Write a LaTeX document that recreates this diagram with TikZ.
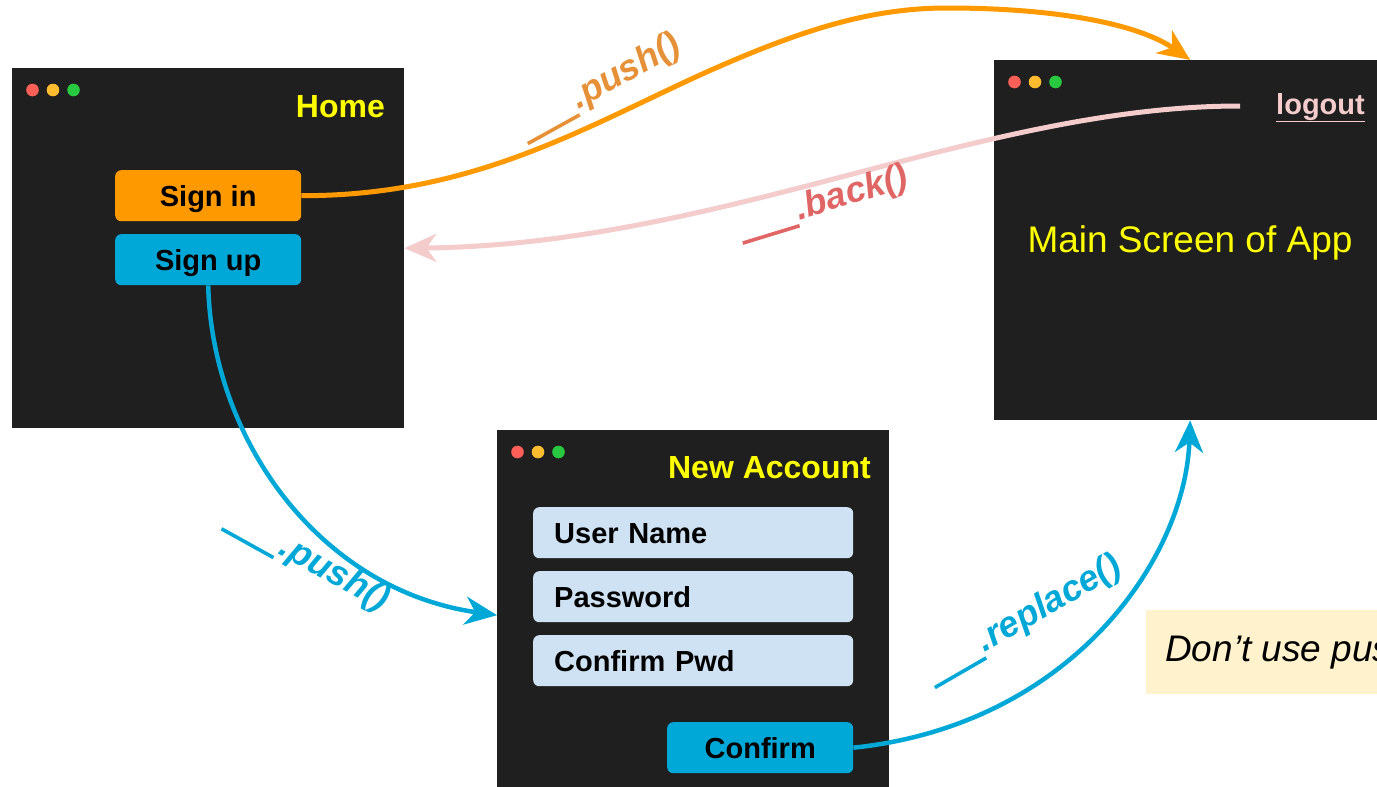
\documentclass[tikz,border=0pt]{standalone}
\usepackage{fontspec}
\setmainfont{Liberation Sans}
\usetikzlibrary{arrows.meta}

\definecolor{winbg}{HTML}{1F1F1F}
\definecolor{titleyellow}{HTML}{FFFF00}
\definecolor{btnorange}{HTML}{FF9900}
\definecolor{btnblue}{HTML}{00A8D8}
\definecolor{fieldblue}{HTML}{CFE2F3}
\definecolor{backpink}{HTML}{F4CCCC}
\definecolor{pushorange}{HTML}{E69138}
\definecolor{backred}{HTML}{E06666}
\definecolor{notebg}{HTML}{FFF2CC}
\definecolor{dotred}{HTML}{FF5F57}
\definecolor{dotyellow}{HTML}{FEBC2E}
\definecolor{dotgreen}{HTML}{28C840}

% the blank before a navigator call
\newcommand{\navblank}{\rule[-0.2em]{1.65em}{0.1em}\kern0.04em}

\tikzset{
    window/.style = {rectangle, fill=winbg, inner sep=0pt, anchor=north west,
                     minimum width=392pt, minimum height=360pt},
    wintitle/.style = {text=titleyellow, inner sep=0pt, anchor=base east,
                       font=\fontsize{32}{38}\selectfont\bfseries},
    btn/.style = {rectangle, rounded corners=6pt, inner sep=0pt, anchor=north west,
                  minimum width=186pt, minimum height=51pt, text height=21pt, text depth=0pt,
                  font=\fontsize{29}{34}\selectfont\bfseries},
    field/.style = {rectangle, rounded corners=6pt, fill=fieldblue, anchor=north west,
                    text width=278pt, inner xsep=21pt, inner ysep=0pt, minimum height=51pt,
                    text height=21pt, text depth=0pt,
                    align=left, font=\fontsize{29}{34}\selectfont\bfseries},
    nav/.style = {line width=5pt, -{Stealth[length=32pt, width=28pt, inset=10pt]}},
    navlabel/.style = {inner sep=0pt, anchor=base west,
                       font=\fontsize{36}{42}\selectfont\bfseries\itshape}
}

\begin{document}
\begin{tikzpicture}[x=1pt, y=-1pt]

                    \clip (0,0) rectangle (1377,787);
                    \fill[white] (0,0) rectangle (1377,787);

                    % the three screens
                    \node[window] (home)    at (12,68)   {};
                    \node[window] (mainwin) at (994,60)  {};
                    \node[window, minimum height=370pt] (newacc) at (497,430) {};

                    \foreach \win in {home, mainwin, newacc}
                        \foreach \c [count=\i] in {dotred, dotyellow, dotgreen}
                            \fill[\c] ([shift={(20.5*\i,22)}]\win.north west) circle[radius=6.3pt];

                    \node[wintitle] (hometitle)   at (385,117) {Home};
                    \node[wintitle] (newacctitle) at (871,478) {New Account};

                    % Home
                    \node[btn, fill=btnorange] (signin) at (115,170) {Sign in};
                    \node[btn, fill=btnblue]   (signup) at (115,234) {Sign up};

                    % Main screen
                    \node[text=backpink, inner sep=0pt, anchor=base east,
                          font=\fontsize{29}{34}\selectfont\bfseries] (logout) at (1365,114) {\underline{logout}};
                    \node[text=titleyellow, inner sep=0pt, anchor=base,
                          font=\fontsize{37}{44}\selectfont] (maintext) at (1190,252) {Main Screen of App};
                    \coordinate (logoutstart) at (1240,106);

                    % New account
                    \node[field] (username) at (533,507) {User Name};
                    \node[field] (password) at (533,571) {Password};
                    \node[field] (confirmpwd) at (533,635) {Confirm Pwd};
                    \node[btn, fill=btnblue] (confirm) at (667,722) {Confirm};

                    % note
                    \node[fill=notebg, anchor=north west, minimum height=84pt, inner xsep=19pt,
                          font=\fontsize{37}{44}\selectfont\itshape] (note) at (1146,610) {Don’t use push};

                    % navigation
                    \draw[nav, btnorange] (signin.east) .. controls (470,196) and (580,130) .. (700,75)
                                          .. controls (800,30) and (870,8) .. (947,8)
                                          .. controls (1060,8) and (1140,25) .. (mainwin.north);
                    \draw[nav, backpink] (logoutstart) .. controls (980,106) and (720,245) .. (home.east);
                    \draw[nav, btnblue, line width=4.5pt] (signup.south) .. controls (212,440) and (320,590) .. (newacc.west);
                    \draw[nav, btnblue, line width=4.5pt] (confirm.east) .. controls (1070,725) and (1185,560) .. (mainwin.south);

                    \node[navlabel, text=pushorange, rotate=29]  (signinlbl)  at (525,139) {\navblank.push()};
                    \node[navlabel, text=backred, rotate=17]     (logoutlbl)  at (741,238) {\navblank.back()};
                    \node[navlabel, text=btnblue, rotate=-29]    (signuplbl)  at (224,524) {\navblank.push()};
                    \node[navlabel, text=btnblue, rotate=30]     (confirmlbl) at (932,683) {\navblank.replace()};

                \end{tikzpicture}
\end{document}
